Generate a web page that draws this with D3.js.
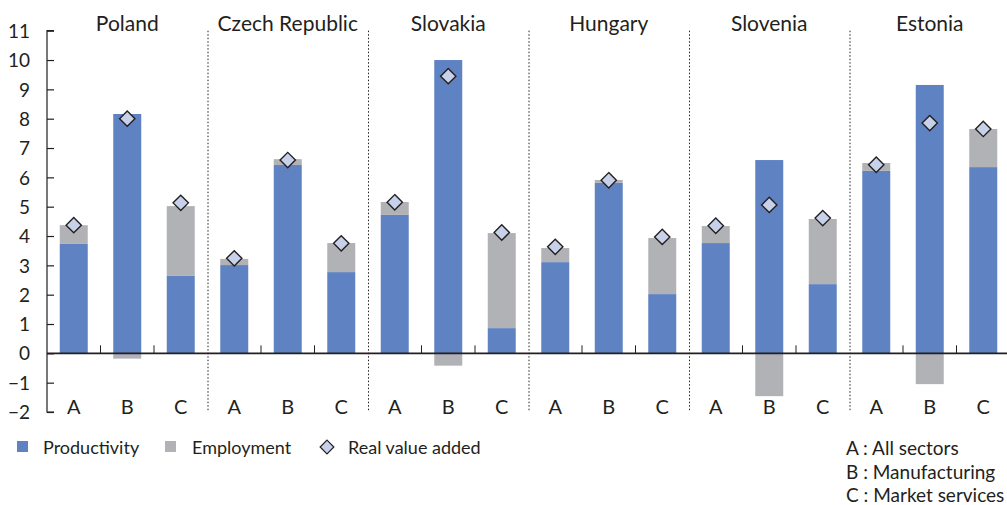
<!DOCTYPE html>
<html><head><meta charset="utf-8">
<script src="https://cdn.jsdelivr.net/npm/d3@7"></script>
<style>body{margin:0;background:#fff}svg{display:block}text{font-family:Lato,"Open Sans",sans-serif;fill:#231f20}</style>
</head><body>
<svg id="c" width="1007" height="505"></svg>
<script>
const countries = ["Poland","Czech Republic","Slovakia","Hungary","Slovenia","Estonia"];
const sectors = ["A","B","C"];
// per country: [A, B, C]
const productivity = [
  [3.73, 8.16, 2.64],
  [3.01, 6.42, 2.77],
  [4.72, 10.0, 0.86],
  [3.11, 5.81, 2.02],
  [3.76, 6.59, 2.36],
  [6.22, 9.15, 6.35]
];
const employment = [
  [0.64, -0.18, 2.38],
  [0.21, 0.20, 0.99],
  [0.44, -0.42, 3.24],
  [0.48, 0.10, 1.91],
  [0.58, -1.46, 2.22],
  [0.27, -1.05, 1.30]
];
const realValueAdded = [
  [4.37, 8.00, 5.13],
  [3.24, 6.59, 3.75],
  [5.15, 9.45, 4.12],
  [3.63, 5.90, 3.97],
  [4.35, 5.06, 4.61],
  [6.43, 7.85, 7.65]
];
const yTicks = [-2,-1,0,1,2,3,4,5,6,7,8,9,10,11];
const seriesNames = ["Productivity","Employment","Real value added"];
const sectorNotes = ["A : All sectors","B : Manufacturing","C : Market services"];

(function(){
const colors = {prod:"#5f82c2", emp:"#b1b2b6", diamond:"#c8d1ea", ink:"#231f20"};
const svg = d3.select("#c");
const pl = 47, pr = 1010, pt = 30.7, pb = 412;
const y = d3.scaleLinear().domain([-2, 11]).range([pb, pt]);

const rows = [];
countries.forEach((c, ci) => sectors.forEach((s, si) => rows.push({key: c + "|" + s, c, ci, s, si,
  p: productivity[ci][si], e: employment[ci][si], r: realValueAdded[ci][si]})));

const xOuter = d3.scaleBand().domain(countries).range([pl, pr]);
const xInner = d3.scaleBand().domain(sectors).range([0, xOuter.bandwidth()]).paddingInner(0.477).paddingOuter(0.2385);
const bx = d => xOuter(d.c) + xInner(d.s);
const cx = d => bx(d) + xInner.bandwidth() / 2;

svg.append("g").selectAll("rect").data(rows).join("rect")
  .attr("x", bx).attr("width", xInner.bandwidth())
  .attr("y", d => y(Math.max(0, d.p))).attr("height", d => Math.abs(y(d.p) - y(0)))
  .attr("fill", colors.prod);
svg.append("g").selectAll("rect").data(rows).join("rect")
  .attr("x", bx).attr("width", xInner.bandwidth())
  .attr("y", d => d.e >= 0 ? y(d.p + d.e) : y(0))
  .attr("height", d => d.e >= 0 ? y(d.p) - y(d.p + d.e) : y(d.e) - y(0))
  .attr("fill", colors.emp);

svg.append("g").selectAll("line").data(countries.slice(1)).join("line")
  .attr("x1", d => xOuter(d) + 0.5).attr("x2", d => xOuter(d) + 0.5)
  .attr("y1", pt).attr("y2", pb)
  .attr("stroke", colors.ink).attr("stroke-width", 1).attr("stroke-dasharray", "1.5,2");

svg.append("line").attr("x1", pl).attr("x2", 1007).attr("y1", y(0)).attr("y2", y(0))
  .attr("stroke", colors.ink).attr("stroke-width", 1.6);
const minor = [];
countries.forEach(c => { minor.push(xOuter(c) + xOuter.bandwidth() / 3); minor.push(xOuter(c) + 2 * xOuter.bandwidth() / 3); });
svg.append("g").selectAll("line").data(minor).join("line")
  .attr("x1", d => d).attr("x2", d => d).attr("y1", y(0) - 8).attr("y2", y(0))
  .attr("stroke", colors.ink).attr("stroke-width", 1);

const yAxis = d3.axisRight(y).tickValues(yTicks).tickSize(7).tickFormat(d3.format("d"));
const ga = svg.append("g").attr("transform", `translate(${pl},0)`).call(yAxis);
ga.select(".domain").attr("stroke", colors.ink).attr("stroke-width", 1.2).attr("d", `M7,${pt}H0V${pb}H7`);
ga.selectAll(".tick line").attr("stroke", colors.ink).attr("stroke-width", 1.2);
ga.selectAll(".tick text").attr("x", -17).attr("text-anchor", "end").attr("font-size", 19)
  .attr("font-family", "Lato, sans-serif").attr("fill", colors.ink).attr("dy", "0.35em");

const dsym = d3.symbol().type(d3.symbolDiamond2).size(150);
svg.append("g").selectAll("path").data(rows).join("path")
  .attr("d", dsym).attr("transform", d => `translate(${cx(d)},${y(d.r)})`)
  .attr("fill", colors.diamond).attr("stroke", colors.ink).attr("stroke-width", 1.4);

svg.append("g").selectAll("text").data(rows).join("text")
  .attr("x", cx).attr("y", 414).attr("text-anchor", "middle").attr("font-size", 20).text(d => d.s);
svg.append("g").selectAll("text").data(countries).join("text")
  .attr("x", d => xOuter(d) + xOuter.bandwidth() / 2).attr("y", 31).attr("text-anchor", "middle")
  .attr("font-size", 21).text(d => d);

const lg = svg.append("g");
lg.append("rect").attr("x", 17).attr("y", 441).attr("width", 11).attr("height", 11).attr("fill", colors.prod);
lg.append("rect").attr("x", 165).attr("y", 441).attr("width", 11).attr("height", 11).attr("fill", colors.emp);
lg.append("path").attr("d", d3.symbol().type(d3.symbolDiamond2).size(120)).attr("transform", "translate(327,447)")
  .attr("fill", colors.diamond).attr("stroke", colors.ink).attr("stroke-width", 1.2);
const legTextX = [43, 192, 348];
lg.selectAll("text").data(seriesNames).join("text")
  .attr("x", (d, i) => legTextX[i]).attr("y", 454).attr("font-size", 18).text(d => d);

svg.append("g").selectAll("text").data(sectorNotes).join("text")
  .attr("x", 846).attr("y", (d, i) => 455 + i * 23.5).attr("font-size", 19).text(d => d);
})();
</script>
</body></html>
